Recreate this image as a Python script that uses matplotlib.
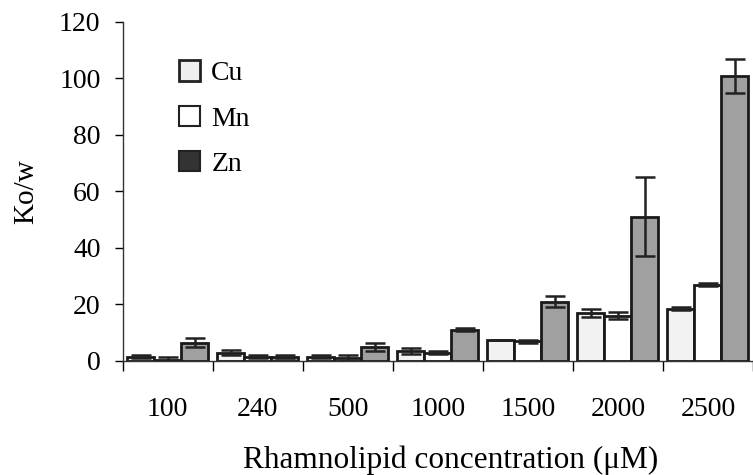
import numpy as np
import matplotlib.pyplot as plt
from matplotlib.patches import Patch

plt.rcParams['font.family'] = ['Liberation Serif', 'DejaVu Serif']

conc = ['100', '240', '500', '1000', '1500', '2000', '2500']
cu = [1.5, 3.0, 1.5, 3.5, 7.5, 17.0, 18.5]
cu_err = [0.5, 1.0, 0.5, 1.0, 0.0, 1.5, 0.5]
mn = [0.5, 1.5, 1.0, 3.0, 7.0, 16.0, 27.0]
mn_err = [1.0, 0.5, 1.0, 0.5, 0.5, 1.2, 0.5]
zn = [6.5, 1.5, 5.0, 11.0, 21.0, 51.0, 101.0]
zn_err = [1.5, 0.5, 1.5, 0.5, 2.0, 14.0, 6.0]

fig = plt.figure(figsize=(7.53, 4.75), dpi=100)
ax = fig.add_axes([0.163, 0.240, 0.837, 0.714])

x = np.arange(len(conc))
w = 0.3
ekw = dict(elinewidth=1.8, capthick=1.8, ecolor='#222222')
ax.bar(x - w, cu, w, yerr=cu_err, color='#f2f2f2', edgecolor='#1a1a1a',
       linewidth=2, capsize=7, error_kw=ekw)
ax.bar(x, mn, w, yerr=mn_err, color='white', edgecolor='#1a1a1a',
       linewidth=2, capsize=7, error_kw=ekw)
ax.bar(x + w, zn, w, yerr=zn_err, color='#a0a0a0', edgecolor='#1a1a1a',
       linewidth=2, capsize=7, error_kw=ekw)

ax.set_xlim(-0.5, len(conc) - 0.5)
ax.set_ylim(0, 120)
ax.set_yticks(range(0, 121, 20))
ax.set_xticks(np.arange(len(conc) + 1) - 0.5)
ax.set_xticklabels([])
ax.set_xticks(x, minor=True)
ax.set_xticklabels(conc, minor=True)
ax.tick_params(axis='x', which='minor', length=0, pad=26, labelsize=20)
ax.tick_params(axis='x', which='major', length=7, width=1, direction='out')
ax.tick_params(axis='y', labelsize=20, length=6, width=1, direction='out', pad=10)

for s in ['top', 'right']:
    ax.spines[s].set_visible(False)
for s in ['left', 'bottom']:
    ax.spines[s].set_color('#333333')
    ax.spines[s].set_linewidth(1)

ax.set_ylabel('Ko/w', fontsize=21, labelpad=14)
ax.set_xlabel('Rhamnolipid concentration (\u03bcM)', fontsize=22.5, labelpad=16)
ax.xaxis.set_label_coords(0.52, -0.25)

handles = [Patch(facecolor='#eeeeee', edgecolor='#222222', linewidth=2),
           Patch(facecolor='white', edgecolor='#222222', linewidth=1.5),
           Patch(facecolor='#333333', edgecolor='#222222', linewidth=1.5)]
ax.legend(handles, ['Cu', 'Mn', 'Zn'], loc='upper left',
          bbox_to_anchor=(0.05, 0.96), frameon=False, fontsize=20,
          handlelength=0.75, handleheight=0.75, handletextpad=0.4,
          labelspacing=0.7)

fig.savefig('out.png', dpi=100)
